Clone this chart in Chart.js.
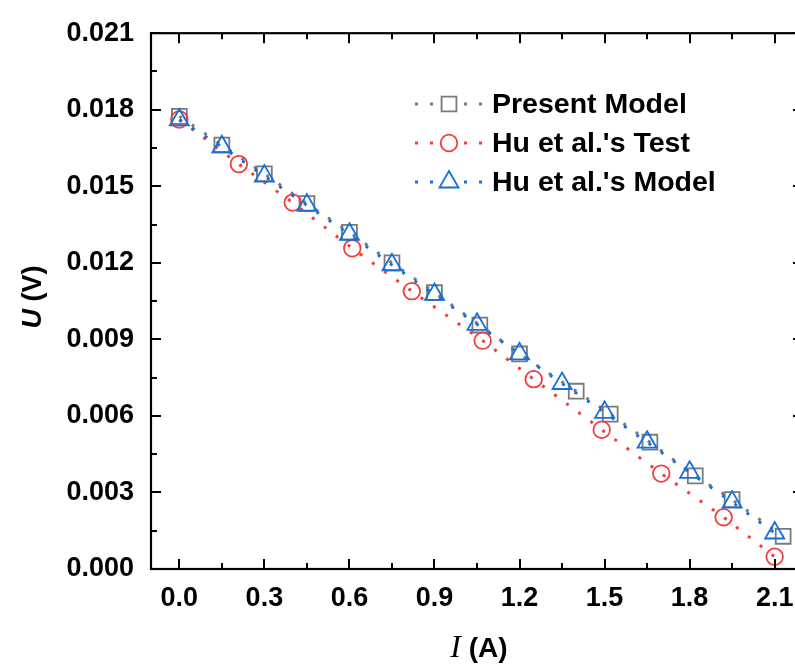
<!DOCTYPE html>
<html>
<head>
<meta charset="utf-8">
<script src="https://cdn.jsdelivr.net/npm/chart.js@4.4.1/dist/chart.umd.min.js"></script>
<style>
  html, body { margin: 0; padding: 0; background: #fff; overflow: hidden; }
  canvas { display: block; }
</style>
</head>
<body>
<canvas id="ivChart" width="830" height="666"></canvas>
<script>
// values
const presentI = [0, 0.15, 0.30, 0.45, 0.60, 0.75, 0.90, 1.06, 1.20, 1.40, 1.52, 1.66, 1.82, 1.95, 2.13];
const presentU = [0.01774, 0.01662, 0.01549, 0.01432, 0.0132, 0.0120, 0.01083, 0.00956, 0.00843, 0.00697, 0.00607, 0.00497, 0.00365, 0.00272, 0.00128];

const testI = [0, 0.21, 0.40, 0.61, 0.82, 1.07, 1.25, 1.49, 1.70, 1.92, 2.10];
const testU = [0.01762, 0.01587, 0.01436, 0.01257, 0.01089, 0.00895, 0.00744, 0.00546, 0.00374, 0.00203, 0.00048];

const huModelI = [0, 0.15, 0.30, 0.45, 0.60, 0.75, 0.90, 1.05, 1.20, 1.35, 1.50, 1.65, 1.80, 1.95, 2.10];
const huModelU = [0.0176, 0.01655, 0.0154, 0.01426, 0.01312, 0.01192, 0.01076, 0.00959, 0.00843, 0.00727, 0.00614, 0.00497, 0.00379, 0.00262, 0.00141];

const xTicks = [0, 0.3, 0.6, 0.9, 1.2, 1.5, 1.8, 2.1];
const yTicks = [0, 0.003, 0.006, 0.009, 0.012, 0.015, 0.018, 0.021];

const GRAY = '#7a7a7a';
const RED = '#f43c3c';
const BLUE = '#1470dc';
const FONT = '"Liberation Sans", Arial, sans-serif';

const toPoints = (xs, ys) => xs.map((x, i) => ({ x: x, y: ys[i] }));

const series = [
  { label: 'Present Model', color: GRAY, style: 'rect', radius: 10.5, order: 2, xs: presentI, ys: presentU },
  { label: "Hu et al.'s Test", color: RED, style: 'circle', radius: 8.3, order: 1, xs: testI, ys: testU },
  { label: "Hu et al.'s Model", color: BLUE, style: 'triangle', radius: 11, order: 0, xs: huModelI, ys: huModelU },
];

const datasets = series.map(s => ({
  label: s.label,
  data: toPoints(s.xs, s.ys),
  borderColor: s.color,
  backgroundColor: 'rgba(0,0,0,0)',
  borderWidth: 3,
  borderDash: [3, 12],
  pointStyle: s.style,
  pointRadius: s.radius,
  pointBorderWidth: 1.8,
  pointBorderColor: s.color,
  pointBackgroundColor: 'rgba(0,0,0,0)',
  showLine: true,
  tension: 0,
  order: s.order,
}));

// inward ticks on all four sides, the box, axis titles and the legend
const framePlugin = {
  id: 'frame',
  afterDatasetsDraw(chart) {
    const ctx = chart.ctx;
    const a = chart.chartArea;
    const xs = chart.scales.x;
    const ys = chart.scales.y;
    ctx.save();
    ctx.strokeStyle = '#000';
    ctx.lineWidth = 2;
    const xMinor = xTicks.map(v => v + 0.15).filter(v => v < 2.2);
    const yMinor = yTicks.map(v => v + 0.0015).filter(v => v < 0.021);
    const tickX = (list, len) => {
      list.forEach(v => {
        const px = Math.round(xs.getPixelForValue(v));
        ctx.beginPath();
        ctx.moveTo(px, a.bottom); ctx.lineTo(px, a.bottom - len);
        ctx.moveTo(px, a.top); ctx.lineTo(px, a.top + len);
        ctx.stroke();
      });
    };
    const tickY = (list, len) => {
      list.forEach(v => {
        const py = Math.round(ys.getPixelForValue(v));
        ctx.beginPath();
        ctx.moveTo(a.left, py); ctx.lineTo(a.left + len, py);
        ctx.moveTo(a.right, py); ctx.lineTo(a.right - len, py);
        ctx.stroke();
      });
    };
    tickX(xTicks, 10);
    tickX(xMinor, 6);
    tickY(yTicks, 10);
    tickY(yMinor, 6);
    ctx.lineWidth = 2.2;
    ctx.strokeRect(a.left, a.top, a.right - a.left, a.bottom - a.top);

    // axis titles
    ctx.fillStyle = '#000';
    ctx.textBaseline = 'middle';
    const serif = 'italic 32px "Liberation Serif", "Times New Roman", serif';
    const cx = 479;
    ctx.font = serif;
    const iW = ctx.measureText('I').width;
    ctx.font = 'bold 28px ' + FONT;
    const restW = ctx.measureText(' (A)').width;
    let x0 = cx - (iW + restW) / 2;
    ctx.textAlign = 'left';
    ctx.font = serif;
    ctx.fillText('I', x0, 649);
    ctx.font = 'bold 28px ' + FONT;
    ctx.fillText(' (A)', x0 + iW, 649);

    ctx.save();
    ctx.translate(34, 297);
    ctx.rotate(-Math.PI / 2);
    ctx.font = 'italic bold 27px ' + FONT;
    const uW = ctx.measureText('U').width;
    ctx.font = 'bold 27px ' + FONT;
    const vW = ctx.measureText(' (V)').width;
    x0 = -(uW + vW) / 2;
    ctx.font = 'italic bold 27px ' + FONT;
    ctx.fillText('U', x0, 0);
    ctx.font = 'bold 27px ' + FONT;
    ctx.fillText(' (V)', x0 + uW, 0);
    ctx.restore();

    // legend
    series.forEach((s, i) => {
      const y = 104 + i * 39;
      const mx = 449;
      ctx.save();
      ctx.strokeStyle = s.color;
      ctx.lineWidth = 3;
      ctx.setLineDash([3, 12]);
      ctx.beginPath();
      ctx.moveTo(415, y); ctx.lineTo(437, y);
      ctx.moveTo(464, y); ctx.lineTo(486, y);
      ctx.stroke();
      ctx.setLineDash([]);
      ctx.lineWidth = 1.8;
      ctx.fillStyle = 'rgba(0,0,0,0)';
      Chart.helpers.drawPoint(ctx, { pointStyle: s.style, radius: s.radius, rotation: 0, borderWidth: 1.8 }, mx, y);
      ctx.restore();
      ctx.fillStyle = '#000';
      ctx.font = 'bold 28.5px ' + FONT;
      ctx.textAlign = 'left';
      ctx.textBaseline = 'middle';
      ctx.fillText(s.label, 492, y + 1);
    });
    ctx.restore();
  }
};

const ivConfig = {
  type: 'scatter',
  data: { datasets: datasets },
  options: {
    responsive: false,
    animation: false,
    layout: { padding: { top: 29, right: 27, left: 0, bottom: 0 } },
    plugins: {
      legend: { display: false },
      title: { display: false },
      tooltip: { enabled: false },
    },
    scales: {
      x: {
        type: 'linear',
        min: -0.1,
        max: 2.2,
        grid: { display: false, drawTicks: false },
        border: { display: false },
        afterBuildTicks: scale => { scale.ticks = xTicks.map(v => ({ value: v })); },
        afterFit: scale => { scale.height = 97; },
        ticks: {
          color: '#000',
          padding: 13,
          maxRotation: 0,
          font: { family: FONT, size: 27, weight: 'bold' },
          callback: v => Number(v).toFixed(1),
        },
      },
      y: {
        type: 'linear',
        min: 0,
        max: 0.021,
        grid: { display: false, drawTicks: false },
        border: { display: false },
        afterBuildTicks: scale => { scale.ticks = yTicks.map(v => ({ value: v })); },
        afterFit: scale => { scale.width = 151; },
        ticks: {
          color: '#000',
          padding: 17,
          font: { family: FONT, size: 27, weight: 'bold' },
          callback: v => Number(v).toFixed(3),
        },
      },
    },
  },
  plugins: [framePlugin],
};

const ivChart = new Chart(document.getElementById('ivChart').getContext('2d'), ivConfig);
</script>
</body>
</html>
